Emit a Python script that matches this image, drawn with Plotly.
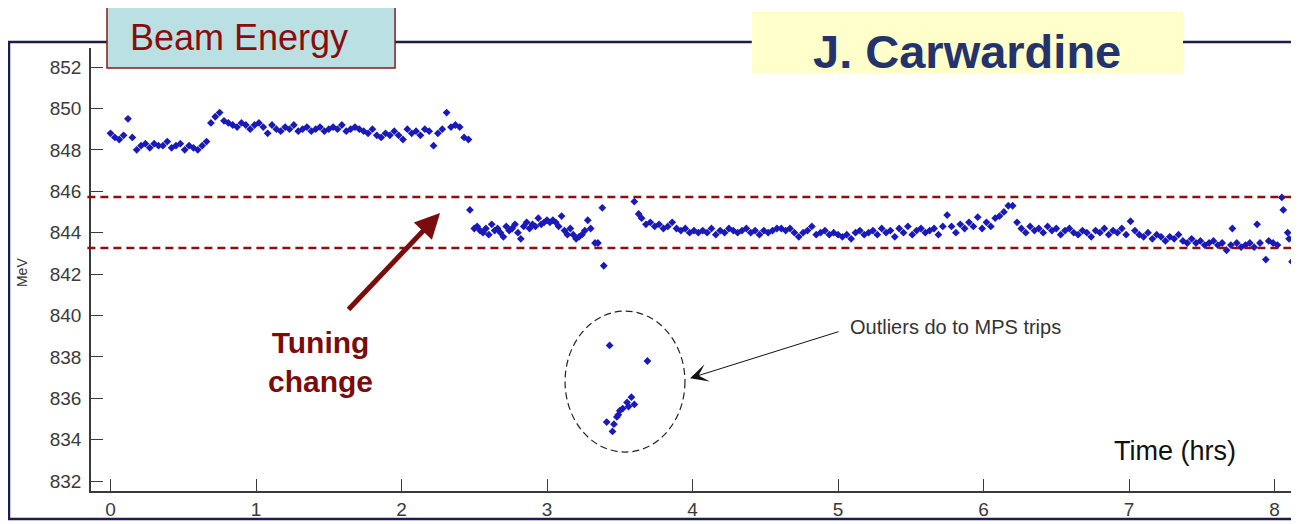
import plotly.graph_objects as go

# ---------------- data ----------------
t_before = [0.00, 0.03, 0.06, 0.09, 0.12, 0.15, 0.18, 0.21, 0.24, 0.27, 0.30, 0.33, 0.36, 0.39,
            0.42, 0.45, 0.48, 0.51, 0.54, 0.57, 0.60, 0.63, 0.66, 0.69, 0.72, 0.75, 0.78, 0.81,
            0.84, 0.87, 0.90, 0.93, 0.96, 0.99, 1.02, 1.05, 1.08, 1.11, 1.14, 1.17, 1.20, 1.23,
            1.26, 1.29, 1.32, 1.35, 1.38, 1.41, 1.44, 1.47, 1.50, 1.53, 1.56, 1.59, 1.62, 1.65,
            1.68, 1.71, 1.74, 1.77, 1.80, 1.83, 1.86, 1.89, 1.92, 1.95, 1.98, 2.01, 2.04, 2.07,
            2.10, 2.13, 2.16, 2.19, 2.22, 2.25, 2.28, 2.31, 2.34, 2.37, 2.40, 2.43, 2.46]
e_before = [848.8, 848.6, 848.5, 848.7, 849.5, 848.6, 848.0, 848.2, 848.3, 848.1, 848.3, 848.2, 848.2, 848.4,
            848.1, 848.2, 848.3, 848.0, 848.2, 848.1, 848.0, 848.2, 848.4, 849.3, 849.6, 849.8, 849.4, 849.3,
            849.2, 849.1, 849.3, 849.2, 849.0, 849.2, 849.3, 849.1, 848.8, 849.2, 849.0, 848.9, 849.1, 849.0,
            849.2, 848.9, 849.0, 849.1, 848.9, 849.0, 849.1, 848.9, 849.0, 849.1, 849.0, 849.2, 848.9, 849.0,
            849.1, 849.0, 848.9, 848.8, 849.0, 848.7, 848.6, 848.8, 848.7, 848.9, 848.7, 848.5, 849.0, 848.8,
            848.9, 848.7, 849.0, 848.9, 848.2, 848.8, 849.0, 849.8, 849.1, 849.2, 849.1, 848.6, 848.5]

t_tuned = [2.47, 2.50, 2.52, 2.54, 2.56, 2.58, 2.60, 2.62, 2.64, 2.66, 2.68, 2.70, 2.72, 2.74,
           2.76, 2.78, 2.80, 2.82, 2.84, 2.86, 2.88, 2.90, 2.92, 2.94, 2.96, 2.98, 3.00, 3.02,
           3.04, 3.06, 3.08, 3.10, 3.12, 3.14, 3.16, 3.18, 3.20, 3.22, 3.24, 3.26, 3.28, 3.30,
           3.33, 3.35, 3.38, 3.39]
e_tuned = [845.1, 844.2, 844.3, 844.1, 844.0, 844.2, 843.9, 844.4, 844.1, 844.2, 844.0, 843.8, 844.3, 844.1,
           844.2, 844.4, 844.0, 843.7, 844.3, 844.5, 844.2, 844.4, 844.3, 844.7, 844.4, 844.5, 844.6, 844.5,
           844.6, 844.5, 844.3, 844.8, 844.1, 843.9, 844.2, 843.9, 843.7, 843.8, 843.9, 844.1, 844.6, 844.2,
           843.5, 843.5, 845.2, 842.4]

t_trips = [3.41, 3.43, 3.45, 3.46, 3.48, 3.49, 3.50, 3.52, 3.55, 3.56, 3.58, 3.60, 3.69]
e_trips = [834.85, 838.55, 834.4, 834.75, 835.1, 835.2, 835.4, 835.5, 835.8, 835.6, 836.05, 835.7, 837.8]

t_later = [3.60, 3.63, 3.65, 3.68, 3.71, 3.74, 3.77, 3.80, 3.83, 3.86, 3.89, 3.92, 3.95, 3.98,
           4.01, 4.04, 4.07, 4.10, 4.13, 4.16, 4.19, 4.22, 4.25, 4.28, 4.31, 4.34, 4.37, 4.40,
           4.43, 4.46, 4.49, 4.52, 4.55, 4.58, 4.61, 4.64, 4.67, 4.70, 4.73, 4.76, 4.79, 4.82,
           4.85, 4.88, 4.91, 4.94, 4.97, 5.00, 5.03, 5.06, 5.09, 5.12, 5.15, 5.18, 5.21, 5.24,
           5.27, 5.30, 5.33, 5.36, 5.39, 5.42, 5.45, 5.48, 5.51, 5.54, 5.57, 5.60, 5.63, 5.66,
           5.69, 5.72, 5.75, 5.78, 5.81, 5.84, 5.87, 5.90, 5.93, 5.96, 5.99, 6.02, 6.05, 6.08,
           6.11, 6.14, 6.17, 6.20, 6.23, 6.26, 6.29, 6.32, 6.35, 6.38, 6.41, 6.44, 6.47, 6.50,
           6.53, 6.56, 6.59, 6.62, 6.65, 6.68, 6.71, 6.74, 6.77, 6.80, 6.83, 6.86, 6.89, 6.92,
           6.95, 6.98, 7.01, 7.04, 7.07, 7.10, 7.13, 7.16, 7.19, 7.22, 7.25, 7.28, 7.31, 7.34,
           7.37, 7.40, 7.43, 7.46, 7.49, 7.52, 7.55, 7.58, 7.61, 7.64, 7.67, 7.70, 7.71, 7.74,
           7.77, 7.80, 7.83, 7.86, 7.88, 7.90, 7.94, 7.96, 7.99, 8.02, 8.05, 8.06, 8.09, 8.10,
           8.12, 8.14, 8.15]
e_later = [845.5, 844.9, 844.7, 844.4, 844.5, 844.3, 844.4, 844.2, 844.3, 844.5, 844.2, 844.1, 844.2, 844.0,
           844.1, 844.0, 844.1, 844.0, 844.2, 843.9, 844.1, 844.0, 844.2, 844.1, 844.0, 844.1, 844.2, 844.0,
           844.1, 843.9, 844.1, 844.0, 844.1, 844.2, 844.2, 844.1, 844.2, 844.0, 843.8, 844.0, 844.1, 844.3,
           843.9, 844.0, 844.1, 843.9, 844.0, 843.9, 843.8, 843.9, 843.7, 844.0, 844.1, 843.9, 844.0, 844.1,
           843.9, 844.2, 844.0, 844.1, 843.8, 844.2, 844.0, 844.3, 843.9, 844.1, 844.2, 844.0, 844.1, 844.2,
           843.9, 844.3, 844.85, 844.3, 844.0, 844.4, 844.2, 844.5, 844.3, 844.75, 844.2, 844.5, 844.3, 844.7,
           844.8, 845.0, 845.3, 845.3, 844.5, 844.2, 844.0, 844.3, 844.1, 844.2, 844.0, 844.3, 844.1, 844.2,
           843.9, 844.1, 844.2, 844.0, 843.9, 844.1, 844.0, 843.8, 844.1, 844.0, 844.2, 843.9, 844.1, 844.0,
           844.2, 843.9, 844.55, 844.1, 843.9, 843.8, 844.0, 843.7, 843.9, 843.8, 843.6, 843.8, 843.7, 843.9,
           843.6, 843.5, 843.7, 843.5, 843.6, 843.4, 843.5, 843.6, 843.4, 843.5, 843.15, 843.4, 844.2, 843.5,
           843.3, 843.4, 843.5, 843.3, 844.4, 843.5, 842.7, 843.6, 843.5, 843.4, 845.7, 845.1, 844.0, 843.7,
           842.6, 842.0, 843.6]

x_ticks = [0, 1, 2, 3, 4, 5, 6, 7, 8]
y_ticks = [832, 834, 836, 838, 840, 842, 844, 846, 848, 850, 852]
band_upper = 845.72
band_lower = 843.26

# ---------------- figure ----------------
MARK = dict(symbol="diamond", size=6, color="#1a1ab8", line=dict(width=0))
fig = go.Figure()
for tx, ey in [(t_before, e_before), (t_tuned, e_tuned), (t_trips, e_trips), (t_later, e_later)]:
    fig.add_trace(go.Scatter(x=tx, y=ey, mode="markers", marker=MARK,
                             showlegend=False, hoverinfo="x+y"))

AX = "#3a3a3a"
FONT = "Liberation Sans, Arial, sans-serif"

# the page body adds an 8px margin, so the figure is 8px smaller and shifted
fig.update_layout(
    width=1291, height=516,
    margin=dict(l=83, r=0, t=40, b=33),
    paper_bgcolor="white", plot_bgcolor="white",
    font=dict(family=FONT, color=AX),
    xaxis=dict(range=[-0.134, 8.168], tickvals=x_ticks, ticks="inside", ticklen=12,
               tickcolor=AX, tickwidth=1.2, showline=True, linecolor=AX, linewidth=1.5,
               showgrid=False, zeroline=False, tickfont=dict(size=19, color=AX)),
    yaxis=dict(range=[831.52, 852.92], tickvals=y_ticks, ticks="inside", ticklen=12,
               tickcolor=AX, tickwidth=1.2, showline=True, linecolor=AX, linewidth=1.5,
               showgrid=False, zeroline=False, tickfont=dict(size=19, color=AX),
               ticklabelstandoff=4),
)

shapes = []
# outer frame
shapes.append(dict(type="rect", xref="paper", yref="paper", x0=-0.0679, x1=1.02, y0=-0.0632, y1=1.0135,
                   line=dict(color="#1c1c4e", width=2.5), fillcolor="rgba(0,0,0,0)"))
# tolerance band
for yv in (band_upper, band_lower):
    shapes.append(dict(type="line", xref="paper", yref="y", x0=-0.003, x1=1.0, y0=yv, y1=yv,
                       line=dict(color="#8b1010", width=2.5, dash="8px,5px")))
# dashed ellipse around outliers
shapes.append(dict(type="circle", xref="x", yref="y", x0=3.124, x1=3.948, y0=833.40, y1=840.21,
                   line=dict(color="#222222", width=1.2, dash="7px,4px")))
# title boxes
shapes.append(dict(type="rect", xref="paper", yref="paper", x0=0.01325, x1=0.2517, y0=0.9549, y1=1.0993,
                   fillcolor="#bae0e3", line=dict(color="#8b1a1a", width=1.5)))
shapes.append(dict(type="rect", xref="paper", yref="paper", x0=0.547, x1=0.904, y0=0.9413, y1=1.0813,
                   fillcolor="#ffffcc", line=dict(width=0)))
fig.update_layout(shapes=shapes)

ann = []
ann.append(dict(xref="paper", yref="paper", x=0.0306, y=1.0226, xanchor="left", yanchor="middle",
                text="Beam Energy", showarrow=False,
                font=dict(family=FONT, size=36, color="#8b0c0c")))
ann.append(dict(xref="paper", yref="paper", x=0.7252, y=0.991, xanchor="center", yanchor="middle",
                text="<b>J. Carwardine</b>", showarrow=False,
                font=dict(family=FONT, size=47, color="#24336b")))
ann.append(dict(xref="paper", yref="paper", x=0.1896, y=0.291, xanchor="center", yanchor="middle",
                text="<b>Tuning<br>change</b>", showarrow=False,
                font=dict(family=FONT, size=30, color="#7b0c0c")))
ann.append(dict(xref="x", yref="y", x=2.265, y=844.95, ax=-93, ay=98, text="", showarrow=True,
                arrowhead=2, arrowsize=1, arrowwidth=5, arrowcolor="#7b0c0c"))
ann.append(dict(xref="x", yref="y", x=3.983, y=836.97, ax=150, ay=-47, text="", showarrow=True,
                arrowhead=3, arrowsize=3, arrowwidth=1, arrowcolor="#111111"))
ann.append(dict(xref="x", yref="y", x=5.069, y=839.44, xanchor="left", yanchor="middle",
                text="Outliers do to MPS trips", showarrow=False,
                font=dict(family=FONT, size=20, color="#333333")))
ann.append(dict(xref="paper", yref="paper", x=0.897, y=0.0903, xanchor="center", yanchor="middle",
                text="Time (hrs)", showarrow=False,
                font=dict(family=FONT, size=27, color="#111111")))
ann.append(dict(xref="paper", yref="paper", x=-0.0571, y=0.492, xanchor="center", yanchor="middle",
                text="MeV", textangle=-90, showarrow=False,
                font=dict(family=FONT, size=14, color="#333333")))
fig.update_layout(annotations=ann)

fig.write_html("out.html")
